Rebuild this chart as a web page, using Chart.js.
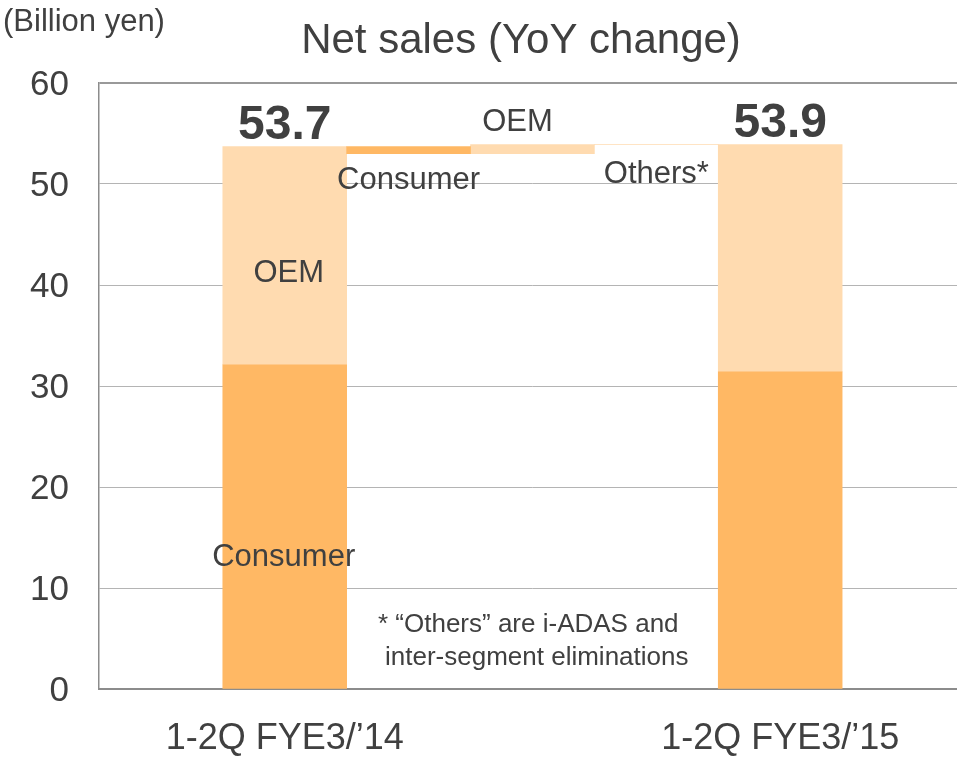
<!DOCTYPE html>
<html>
<head>
<meta charset="utf-8">
<script src="https://cdn.jsdelivr.net/npm/chart.js@4.4.0/dist/chart.umd.min.js"></script>
<style>
  body { margin: 0; overflow: hidden; background: #fff; }
  #wrap { width: 966px; height: 757px; }
</style>
</head>
<body>
<div id="wrap"><canvas id="myChart" width="966" height="757"></canvas></div>
<script>
// waterfall: totals of both periods, and the change by segment in between
const categories = ['', "1-2Q FYE3/\u201914", 'Consumer', 'OEM', 'Others*', "1-2Q FYE3/\u201915", ''];
const consumerSales = [32.1, 31.4];   // FYE3/'14, FYE3/'15
const oemSales = [21.6, 22.5];
const changes = [-0.7, 0.9, 0.0];      // Consumer, OEM, Others
const totals = [53.7, 53.9];
const yTicks = [0, 10, 20, 30, 40, 50, 60];

const orange = '#FFB864';
const peach = '#FFDBB0';
const textColor = '#404040';
const font = "'Liberation Sans', Arial, sans-serif";

// build floating ranges from the values above
let run = totals[0];
const consumerData = [null, [0, consumerSales[0]], null, null, null, [0, consumerSales[1]], null];
const oemData = [null, [consumerSales[0], totals[0]], null, null, null, [consumerSales[1], totals[1]], null];
const othersData = [null, null, null, null, null, null, null];
[consumerData, oemData, othersData].forEach((d, i) => {
    const next = run + changes[i];
    d[2 + i] = [Math.min(run, next), Math.max(run, next)];
    run = next;
});

const labelsPlugin = {
    id: 'labels',
    afterDatasetsDraw(chart) {
        const { ctx, scales: { x, y } } = chart;
        ctx.save();
        ctx.fillStyle = textColor;
        ctx.textAlign = 'center';
        ctx.textBaseline = 'alphabetic';

        // title and unit
        ctx.font = '42px ' + font;
        ctx.fillText('Net sales (YoY change)', 521, 53);
        ctx.textAlign = 'left';
        ctx.font = '31px ' + font;
        ctx.fillText('(Billion yen)', 3, 31);

        // totals
        ctx.textAlign = 'center';
        ctx.font = 'bold 48px ' + font;
        ctx.fillText(totals[0].toFixed(1), x.getPixelForValue(1), y.getPixelForValue(totals[0]) - 8);
        ctx.fillText(totals[1].toFixed(1), x.getPixelForValue(5), y.getPixelForValue(totals[1]) - 8);

        // segment names
        ctx.font = '31px ' + font;
        ctx.fillText('OEM', x.getPixelForValue(1) + 4, y.getPixelForValue(40.3));
        ctx.fillText('Consumer', x.getPixelForValue(1) - 1, y.getPixelForValue(12.2));
        ctx.fillText('Consumer', x.getPixelForValue(2), y.getPixelForValue(consumerData[2][0]) + 35);
        ctx.fillText('OEM', x.getPixelForValue(3) - 15, y.getPixelForValue(oemData[3][1]) - 14);
        ctx.fillText('Others*', x.getPixelForValue(4), y.getPixelForValue(totals[1]) + 38);

        // footnote
        ctx.font = '26px ' + font;
        ctx.textAlign = 'left';
        ctx.fillText('* \u201cOthers\u201d are i-ADAS and', 378, y.getPixelForValue(5.6));
        ctx.fillText('inter-segment eliminations', 385, y.getPixelForValue(2.4));
        ctx.restore();
    }
};

const ctx = document.getElementById('myChart');

const myChart = new Chart(ctx, {
    type: 'bar',
    data: {
        labels: categories,
        datasets: [
            { label: 'Consumer', data: consumerData, backgroundColor: orange },
            { label: 'OEM', data: oemData, backgroundColor: peach },
            { label: 'Others', data: othersData, backgroundColor: peach }
        ]
    },
    options: {
        responsive: false,
        animation: false,
        layout: { padding: { top: 83, bottom: 0, left: 0, right: 0 } },
        datasets: {
            bar: { grouped: false, barPercentage: 1, categoryPercentage: 1, borderWidth: 0 }
        },
        plugins: {
            legend: { display: false },
            tooltip: { enabled: false }
        },
        scales: {
            x: {
                // no tick marks drawn, tickLength only sets the gap above the labels
                grid: { display: false, drawTicks: true, tickLength: 32 },
                border: { color: '#8c8c8c', width: 2 },
                ticks: {
                    color: textColor,
                    font: { family: font, size: 36, lineHeight: 1 },
                    padding: 0,
                    maxRotation: 0,
                    autoSkip: false,
                    callback: (v, i) => (i === 1 || i === 5) ? categories[i] : ''
                }
            },
            y: {
                min: 0,
                max: 60,
                afterBuildTicks: axis => { axis.ticks = yTicks.map(v => ({ value: v })); },
                grid: {
                    drawTicks: false,
                    color: c => c.tick.value === 60 ? '#999999' : '#b4b4b4',
                    lineWidth: c => c.tick.value === 60 ? 2 : 1
                },
                border: { color: '#8c8c8c', width: 1.5 },
                ticks: {
                    color: textColor,
                    font: { family: font, size: 35 },
                    padding: 30,
                    labelOffset: 2
                }
            }
        }
    },
    plugins: [labelsPlugin]
});
</script>
</body>
</html>
